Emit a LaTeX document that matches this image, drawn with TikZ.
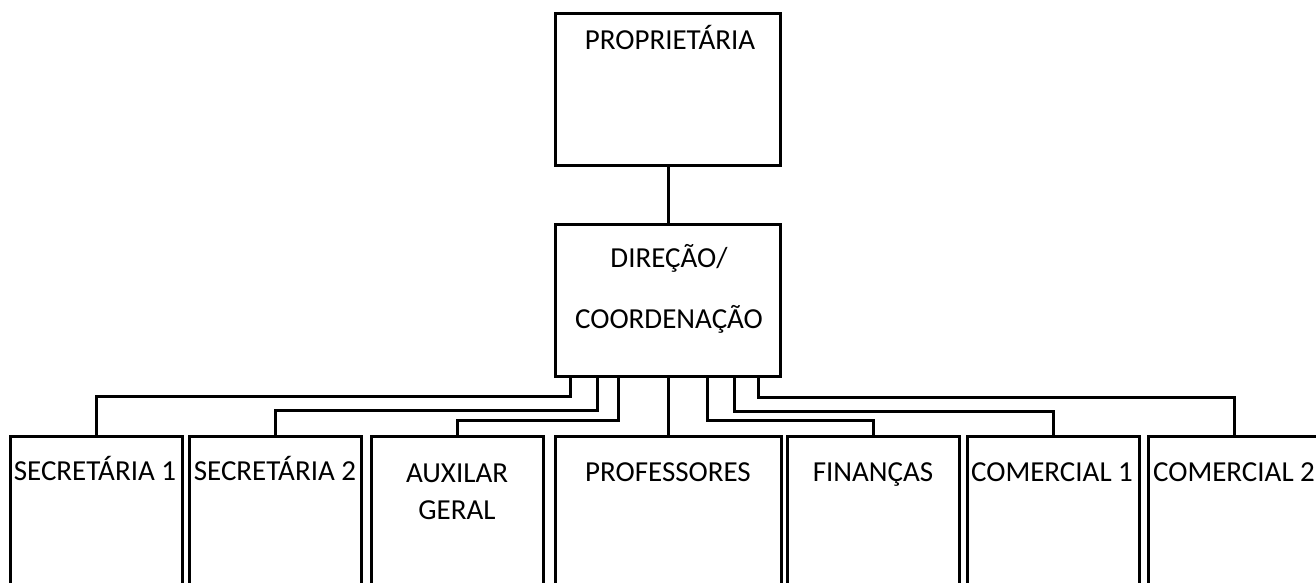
\documentclass[tikz,border=0pt]{standalone}
\usepackage{fontspec}
\setmainfont{Carlito}
\usetikzlibrary{positioning, calc}

\begin{document}
\begin{tikzpicture}[x=1pt, y=-1pt, line width=3pt,
    box/.style={draw, inner sep=0pt, minimum width=172pt, minimum height=220pt, anchor=north},
    bigbox/.style={draw, inner sep=0pt, minimum width=225pt, minimum height=152pt, anchor=north},
    lbl/.style={font=\fontsize{29}{35}\selectfont, inner sep=0pt, align=center, anchor=base}]
    \useasboundingbox (0,0) rectangle (1316,582);
    \clip (0,0) rectangle (1316,582);

    \node[bigbox] (prop) at (668,12) {};
    \node[bigbox] (dir) at (668,223) {};

    \node[box] (sec1) at (96,435) {};
    \node[box] (sec2) at (275,435) {};
    \node[box] (aux) at (457,435) {};
    \node[box, minimum width=226pt] (prof) at (668,435) {};
    \node[box] (fin) at (873,435) {};
    \node[box] (com1) at (1053,435) {};
    \node[box] (com2) at (1234,435) {};

    \node[lbl] (t-prop) at (670,49) {PROPRIETÁRIA};
    \node[lbl] (t-dir) at (669,328) {DIREÇÃO/\\[26pt]COORDENAÇÃO};
    \node[lbl] (t-sec1) at (95,480) {SECRETÁRIA 1};
    \node[lbl] (t-sec2) at (275,480) {SECRETÁRIA 2};
    \node[lbl] (t-aux) at (457,519) {AUXILAR\\[2pt]GERAL};
    \node[lbl] (t-prof) at (668,481) {PROFESSORES};
    \node[lbl] (t-fin) at (873,481) {FINANÇAS};
    \node[lbl] (t-com1) at (1052,481) {COMERCIAL 1};
    \node[lbl] (t-com2) at (1234,481) {COMERCIAL 2};

    % ligações
    \draw (prop.south) -- (dir.north);
    \draw ($(dir.south)+(-98,0)$) -- ++(0,18) -| (sec1.north);
    \draw ($(dir.south)+(-71,0)$) -- ++(0,32) -| (sec2.north);
    \draw ($(dir.south)+(-50,0)$) -- ++(0,42) -| (aux.north);
    \draw (dir.south) -- (prof.north);
    \draw ($(dir.south)+(39,0)$) -- ++(0,42) -| (fin.north);
    \draw ($(dir.south)+(66,0)$) -- ++(0,33) -| (com1.north);
    \draw ($(dir.south)+(90,0)$) -- ++(0,19) -| (com2.north);
\end{tikzpicture}
\end{document}
